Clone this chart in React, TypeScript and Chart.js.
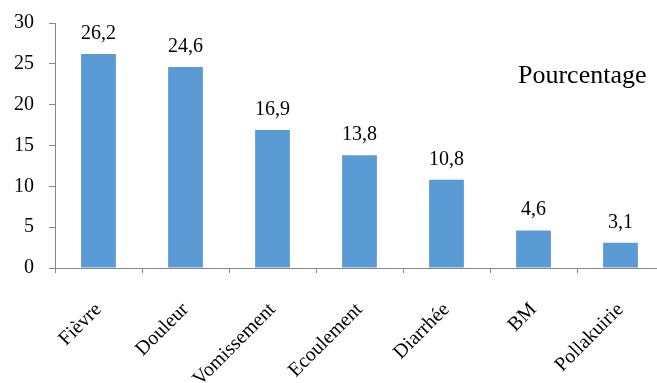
import React, { useEffect, useRef } from "react";
import { Chart, registerables } from "chart.js";

Chart.register(...registerables);

const categories = ["Fièvre", "Douleur", "Vomissement", "Ecoulement", "Diarrhée", "BM", "Pollakuirie"];
const values = [26.2, 24.6, 16.9, 13.8, 10.8, 4.6, 3.1];
const valueLabels = ["26,2", "24,6", "16,9", "13,8", "10,8", "4,6", "3,1"];
const seriesName = "Pourcentage";
const yMin = 0;
const yMax = 30;
const yStep = 5;

const FONT = '"Liberation Serif", "Times New Roman", Tinos, serif';
const AXIS = "#868686";

const labelPlugin = {
  id: "valueLabels",
  afterDatasetsDraw(chart: any) {
    const ctx = chart.ctx;
    const meta = chart.getDatasetMeta(0);
    ctx.save();
    ctx.font = `20px ${FONT}`;
    ctx.fillStyle = "#000";
    ctx.textAlign = "center";
    ctx.textBaseline = "alphabetic";
    meta.data.forEach((el: any, i: number) => {
      ctx.fillText(valueLabels[i], el.x, el.y - 15);
    });
    ctx.font = `26px ${FONT}`;
    ctx.textAlign = "left";
    ctx.fillText(seriesName, 518, 83);
    ctx.restore();
  },
};

export default function App() {
  const ref = useRef<HTMLCanvasElement>(null);
  useEffect(() => {
    if (!ref.current) return;
    const chart = new Chart(ref.current, {
      type: "bar",
      data: {
        labels: categories,
        datasets: [
          {
            label: seriesName,
            data: values,
            backgroundColor: "#5B9BD5",
            categoryPercentage: 1,
            barPercentage: 0.4,
          },
        ],
      },
      options: {
        animation: false,
        responsive: false,
        layout: { padding: { top: 23, right: 1, left: 0, bottom: 0 } },
        plugins: { legend: { display: false }, tooltip: { enabled: false } },
        scales: {
          x: {
            grid: { drawOnChartArea: false, drawTicks: true, tickLength: 5, color: AXIS },
            border: { color: AXIS },
            ticks: {
              color: "#000",
              font: { family: FONT, size: 20 },
              minRotation: 45,
              maxRotation: 45,
              padding: 25,
            },
            afterFit(scale: any) {
              scale.height = 115;
              scale.paddingTop = 0;
              scale.paddingBottom = 0;
              scale.paddingLeft = 0;
              scale.paddingRight = 0;
            },
          },
          y: {
            min: yMin,
            max: yMax,
            grid: { drawOnChartArea: false, drawTicks: true, tickLength: 6, color: AXIS },
            border: { color: AXIS },
            ticks: {
              stepSize: yStep,
              color: "#000",
              font: { family: FONT, size: 20 },
              padding: 15,
            },
            afterFit(scale: any) {
              scale.width = 55;
              scale.paddingTop = 0;
              scale.paddingBottom = 0;
              scale.paddingLeft = 0;
              scale.paddingRight = 0;
            },
          },
        },
      },
      plugins: [labelPlugin],
    });
    let t1: any, t2: any;
    const refresh = () => {
      try {
        chart.update("none");
      } catch (e) {}
    };
    t1 = setTimeout(refresh, 30);
    t2 = setTimeout(refresh, 200);
    const fonts: any = (document as any).fonts;
    if (fonts && fonts.ready) fonts.ready.then(refresh);
    return () => {
      clearTimeout(t1);
      clearTimeout(t2);
      chart.destroy();
    };
  }, []);
  return (
    <div style={{ position: "absolute", left: 0, top: 0, width: 657, height: 383, overflow: "hidden", background: "#fff" }}>
      <span style={{ position: "absolute", left: -9999, top: 0, fontFamily: FONT, fontSize: 20 }}>
        Fièvre 26,2 Pourcentage
      </span>
      <canvas ref={ref} width={665} height={383} style={{ width: 665, height: 383, display: "block" }} />
    </div>
  );
}
